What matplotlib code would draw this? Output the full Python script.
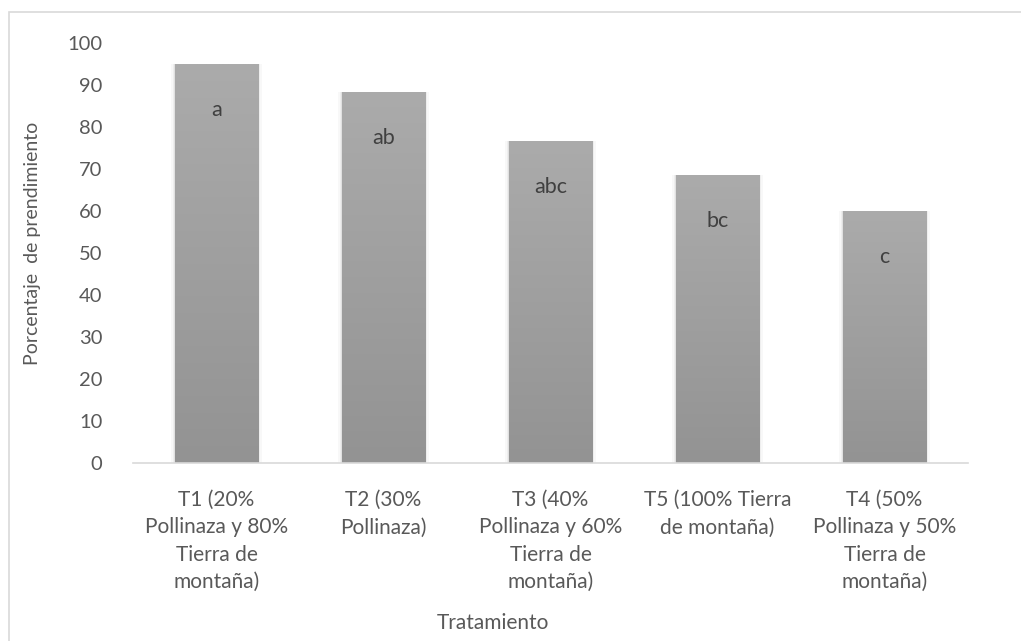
import matplotlib
matplotlib.use("Agg")
import matplotlib.pyplot as plt
import numpy as np
from matplotlib.patches import Rectangle
from matplotlib.colors import LinearSegmentedColormap

categories = [
    "T1 (20%\nPollinaza y 80%\nTierra de\nmontaña)",
    "T2 (30%\nPollinaza)",
    "T3 (40%\nPollinaza y 60%\nTierra de\nmontaña)",
    "T5 (100% Tierra\nde montaña)",
    "T4 (50%\nPollinaza y 50%\nTierra de\nmontaña)",
]
values = [95.0, 88.4, 76.7, 68.6, 60.1]
letters = ["a", "ab", "abc", "bc", "c"]
yticks = [0, 10, 20, 30, 40, 50, 60, 70, 80, 90, 100]

plt.rcParams['font.family'] = ['Lato', 'DejaVu Sans']
txt = "#595959"
fs = 14

fig = plt.figure(figsize=(10.21, 6.41), dpi=100)
ax = fig.add_axes([133/1021, 1-463/641, 835/1021, 420/641])

x = np.arange(len(categories))
# soft shadow
for w, a in [(0.54, 0.05), (0.525, 0.08), (0.512, 0.12)]:
    ax.bar(x, values, width=w, color="#808080", alpha=a, linewidth=0, zorder=1)
bars = ax.bar(x, values, width=0.5, color="#a0a0a0", linewidth=0, zorder=2)

cmap = LinearSegmentedColormap.from_list("g", ["#939393", "#ababab"])
grad = np.linspace(0, 1, 256).reshape(-1, 1)
for b in bars:
    im = ax.imshow(grad, cmap=cmap, origin="lower", aspect="auto",
                   extent=[b.get_x(), b.get_x()+b.get_width(), 0, b.get_height()],
                   zorder=3)
    im.set_clip_path(b)

for xi, v, l in zip(x, values, letters):
    ax.text(xi, v - 11.0, l, ha="center", va="center", fontsize=15.5, color="#404040", zorder=4)

ax.set_xlim(-0.5, len(categories) - 0.5)
ax.set_ylim(0, 100)
ax.set_yticks(yticks)
ax.set_yticklabels([str(t) for t in yticks])
ax.set_xticks(x)
ax.set_xticklabels(categories, fontsize=15, color=txt, linespacing=1.46, va="top")
ax.tick_params(axis="y", length=0, pad=22, labelsize=14.5, labelcolor=txt)
ax.tick_params(axis="x", length=0, pad=19.5)
for s in ["top", "right", "left"]:
    ax.spines[s].set_visible(False)
ax.spines["bottom"].set_color("#d9d9d9")
ax.spines["bottom"].set_linewidth(1.2)
ax.spines["bottom"].set_zorder(5)

fig.text(33/1021, 1-243/641, "Porcentaje  de prendimiento", rotation=90,
         ha="center", va="center", fontsize=fs, color=txt)
fig.text(493/1021, 1-623/641, "Tratamiento", ha="center", va="center",
         fontsize=15, color=txt)

fig.patches.append(Rectangle((8.5/1021, -0.05), 1.1, 1 - 12/641 + 0.05,
                             transform=fig.transFigure, fill=False,
                             edgecolor="#d9d9d9", linewidth=1.2))

fig.savefig("out.png", dpi=100, facecolor="white")
